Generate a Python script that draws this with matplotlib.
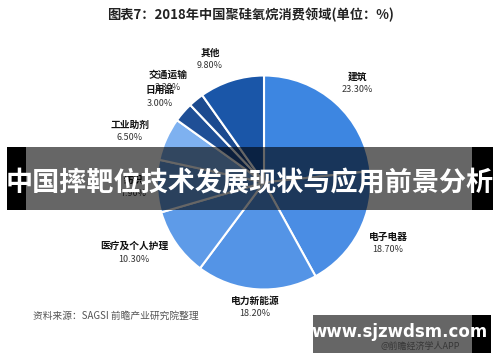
import matplotlib
matplotlib.use("Agg")
import matplotlib.pyplot as plt
from matplotlib.patches import Rectangle

plt.rcParams['font.family'] = ['Noto Sans CJK SC', 'DejaVu Sans']

categories = ["建筑", "电子电器", "电力新能源", "医疗及个人护理", "纺织", "工业助剂", "日用品", "交通运输", "其他"]
values = [23.3, 18.7, 18.2, 10.3, 7.9, 6.5, 3.0, 2.3, 9.8]
value_labels = ["23.30%", "18.70%", "18.20%", "10.30%", "7.90%", "6.50%", "3.00%", "2.30%", "9.80%"]
colors = ["#3d86e1", "#4a8de4", "#5494e6", "#5e9be8", "#6aa3ea", "#7eb1f0", "#1f4f96", "#1c4a8f", "#1a56a8"]
label_pos = [(357, 77), (388, 237), (255, 301), (134, 246), (134, 180), (130, 125), (160, 90), (168, 75), (210, 53)]

W, H = 500, 362
fig = plt.figure(figsize=(5, 3.62), dpi=100)
ax = fig.add_axes([0, 0, 1, 1])

ax.pie(values, colors=colors, startangle=90, counterclock=False,
       center=(264, H - 182.5), radius=107,
       wedgeprops=dict(edgecolor='white', linewidth=1.5), frame=True)
ax.set_xlim(0, W)
ax.set_ylim(0, H)
ax.set_aspect('equal')
ax.axis('off')

for name, val, (x, y) in zip(categories, value_labels, label_pos):
    ax.text(x, H - y, name, ha='center', va='center', fontsize=7, fontweight='bold', color='#111111')
    ax.text(x, H - y - 13, val, ha='center', va='center', fontsize=6.5, fontweight='medium', color='#333333')

ax.text(250, H - 15, "图表7：2018年中国聚硅氧烷消费领域(单位：%)", ha='center', va='center',
        fontsize=9.5, fontweight='bold', color='#222222')
ax.text(33, H - 316, "资料来源：SAGSI 前瞻产业研究院整理", ha='left', va='center',
        fontsize=7, color='#555555')
ax.text(420, H - 346, "@前瞻经济学人APP", ha='center', va='center', fontsize=6.5, color='#888888')

# banner
ax.add_patch(Rectangle((26, H - 210), 446, 63, facecolor='black', alpha=0.6, edgecolor='none', zorder=5))
ax.add_patch(Rectangle((7, H - 210), 19, 63, facecolor='black', edgecolor='none', zorder=5))
ax.add_patch(Rectangle((472, H - 210), 21, 63, facecolor='black', edgecolor='none', zorder=5))
ax.text(250, H - 183, "中国摔靶位技术发展现状与应用前景分析", ha='center', va='center',
        fontsize=19.5, fontweight='bold', color='white', zorder=6)

# bottom box
ax.add_patch(Rectangle((313, H - 353), 159, 38, facecolor='black', alpha=0.6, edgecolor='none', zorder=5))
ax.add_patch(Rectangle((472, H - 353), 19, 38, facecolor='black', edgecolor='none', zorder=5))
ax.text(400, H - 332, "www.sjzwdsm.com", ha='center', va='center',
        fontsize=12, fontweight='bold', color='white', family='DejaVu Sans', zorder=6)

fig.savefig("out.png", dpi=100)
